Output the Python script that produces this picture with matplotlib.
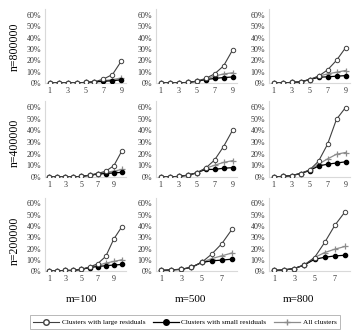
import matplotlib.pyplot as plt
from matplotlib.lines import Line2D

plt.rcParams['font.family'] = ['Liberation Serif', 'DejaVu Serif']

# --------- DATI (percentuali) ---------
row_labels = ["n=800000", "n=400000", "n=200000"]
col_labels = ["m=100", "m=500", "m=800"]

# riga n=800000
large_800k_100 = [0, 0, 0, 0, 0.5, 1, 3.5, 7.5, 19.6]
small_800k_100 = [0, 0, 0, 0, 0.5, 1, 1.5, 2, 2.9]
all_800k_100 = [0, 0, 0, 0, 0.5, 1, 2, 3, 4.4]

large_800k_500 = [0, 0, 0, 0.5, 1.5, 4, 8, 15, 29]
small_800k_500 = [0, 0, 0, 0.5, 1.5, 3, 4, 4.8, 5.3]
all_800k_500 = [0, 0, 0, 0.5, 1.5, 3.5, 6, 8, 9]

large_800k_800 = [0, 0, 0.5, 1, 3, 6, 11.5, 20, 31]
small_800k_800 = [0, 0, 0.5, 1, 3, 5, 5.5, 6, 6.5]
all_800k_800 = [0, 0, 0.5, 1, 3, 6, 8, 9.5, 11]

# riga n=400000
large_400k_100 = [0, 0, 0, 0, 0.5, 1.5, 3, 5, 9.7, 22.5]
small_400k_100 = [0, 0, 0, 0, 0.5, 1.5, 2.5, 3, 3.5, 4]
all_400k_100 = [0, 0, 0, 0, 0.5, 1.5, 3, 4, 5, 6.5]

large_400k_500 = [0, 0, 0.5, 1.5, 3.5, 7.5, 14.5, 26, 40]
small_400k_500 = [0, 0, 0.5, 1.5, 3.5, 6.5, 6.5, 7.5, 8]
all_400k_500 = [0, 0, 0.5, 1.5, 3.5, 7.5, 10, 12.5, 14]

large_400k_800 = [0, 0.5, 1.2, 3, 6, 13.5, 28, 49.5, 59.5]
small_400k_800 = [0, 0.5, 1.2, 3, 5.5, 9.4, 11, 12, 13]
all_400k_800 = [0, 0.5, 1.2, 3, 6, 11, 15.5, 19.5, 21]

# riga n=200000
large_200k_100 = [0, 0, 0.5, 0.5, 1.5, 3.5, 6.5, 13, 28.5, 39.5]
small_200k_100 = [0, 0, 0.5, 0.5, 1.5, 3, 4, 4.7, 5.3, 5.8]
all_200k_100 = [0, 0, 0.5, 0.5, 1.5, 3.5, 5, 7, 8.5, 10]

large_200k_500 = [0.5, 1, 1.5, 3.3, 7.6, 15, 24.3, 37]
small_200k_500 = [0.5, 1, 1.5, 3.3, 7.6, 9, 9.7, 10.5]
all_200k_500 = [0.5, 1, 1.5, 3.3, 7.6, 11, 13.5, 16]

large_200k_800 = [0.5, 1, 2.2, 5.4, 12, 25.4, 40.6, 52.5]
small_200k_800 = [0.5, 1, 2.2, 5.4, 10.4, 12.2, 13.4, 14]
all_200k_800 = [0.5, 1, 2.2, 5.4, 12, 16.4, 19.4, 21.8]

griglia = [
    [(large_800k_100, small_800k_100, all_800k_100),
     (large_800k_500, small_800k_500, all_800k_500),
     (large_800k_800, small_800k_800, all_800k_800)],
    [(large_400k_100, small_400k_100, all_400k_100),
     (large_400k_500, small_400k_500, all_400k_500),
     (large_400k_800, small_400k_800, all_400k_800)],
    [(large_200k_100, small_200k_100, all_200k_100),
     (large_200k_500, small_200k_500, all_200k_500),
     (large_200k_800, small_200k_800, all_200k_800)],
]

# --------- LAYOUT ---------
W, H = 357, 333
fig = plt.figure(figsize=(W / 100, H / 100), dpi=100)

col_left = [45, 156, 269]
col_w = 81
row_zero = [83, 177, 271]       # pixel y dello 0%
row_60 = [15, 107, 203.5]       # pixel y del 60%

for r in range(3):
    px_per = (row_zero[r] - row_60[r]) / 60.0
    h_px = px_per * 65
    for c in range(3):
        ax = fig.add_axes([col_left[c] / W, (H - row_zero[r]) / H, col_w / W, h_px / H])
        large, small, tutti = griglia[r][c]
        x = list(range(1, len(large) + 1))
        ax.plot(x, tutti, color='#8c8c8c', lw=0.9, marker='+', ms=4, mew=0.9, zorder=2)
        ax.plot(x, small, color='black', lw=0.9, marker='o', ms=3, mfc='black', mec='black', zorder=3)
        ax.plot(x, large, color='#404040', lw=0.8, marker='o', ms=3.2, mfc='white', mec='#404040', mew=0.7, zorder=4)
        ax.set_xlim(0.5, len(large) + 0.5)
        ax.set_ylim(0, 65)
        ax.set_yticks([0, 10, 20, 30, 40, 50, 60])
        ax.set_yticklabels([f"{v}%" for v in range(0, 70, 10)])
        ax.set_xticks(x[::2])
        ax.tick_params(length=0, labelsize=5.8, colors='#333333', pad=3)
        for s in ['top', 'right']:
            ax.spines[s].set_visible(False)
        for s in ['left', 'bottom']:
            ax.spines[s].set_color('#d9d9d9')
            ax.spines[s].set_linewidth(0.8)
        ax.patch.set_alpha(0)

row_center = [47, 143, 241]
for r in range(3):
    fig.text(15 / W, 1 - row_center[r] / H, row_labels[r], rotation=90,
             ha='center', va='center', fontsize=8.5)

col_center = [82, 190, 298]
for c in range(3):
    fig.text(col_center[c] / W, 1 - 300 / H, col_labels[c], ha='center', va='center', fontsize=8)

handles = [
    Line2D([], [], color='#404040', lw=0.8, marker='o', ms=4, mfc='white', mec='#404040'),
    Line2D([], [], color='black', lw=0.9, marker='o', ms=4, mfc='black'),
    Line2D([], [], color='#8c8c8c', lw=0.9, marker='+', ms=5),
]
etichette = ["Clusters with large residuals", "Clusters with small residuals", "All clusters"]
leg = fig.legend(handles, etichette, loc='center', bbox_to_anchor=(185 / W, 1 - 322 / H),
                 ncol=3, fontsize=5.2, frameon=True, fancybox=False, edgecolor='#a6a6a6',
                 handlelength=3.6, handletextpad=0.3, columnspacing=1.1, borderpad=0.5)
leg.get_frame().set_linewidth(0.7)

fig.savefig("out.png", dpi=100)
